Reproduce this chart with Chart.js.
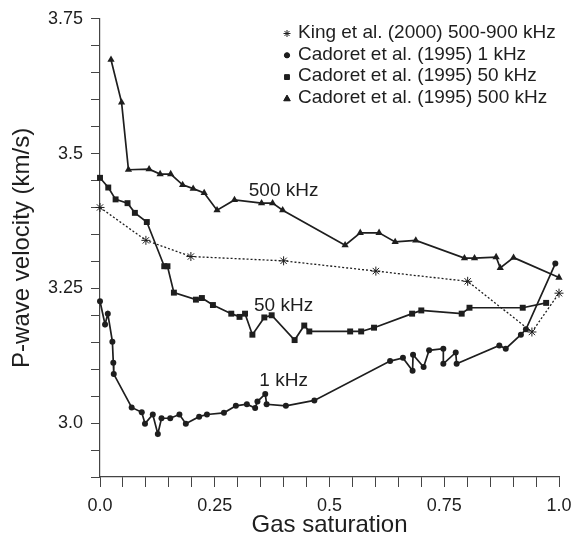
<!DOCTYPE html>
<html><head><meta charset="utf-8">
<script src="https://cdn.jsdelivr.net/npm/chart.js@4/dist/chart.umd.min.js"></script>
<style>html,body{margin:0;padding:0;background:#fff}#wrap{width:584px;height:545px}</style>
</head><body><div id="wrap"><canvas id="c" width="584" height="545"></canvas></div>
<script>
const seriesNames = ['King et al. (2000) 500-900 kHz','Cadoret et al. (1995) 1 kHz','Cadoret et al. (1995) 50 kHz','Cadoret et al. (1995) 500 kHz'];
const satKing = [0, 0.10, 0.198, 0.40, 0.601, 0.801, 0.941, 1.0];
const velKing = [3.400, 3.339, 3.309, 3.301, 3.282, 3.263, 3.169, 3.241];
const sat1k = [0, 0.011, 0.017, 0.027, 0.029, 0.030, 0.069, 0.091, 0.098, 0.115, 0.126, 0.134, 0.153, 0.173, 0.187, 0.216, 0.233, 0.270, 0.296, 0.320, 0.338, 0.343, 0.360, 0.363, 0.405, 0.467, 0.632, 0.660, 0.681, 0.682, 0.705, 0.717, 0.748, 0.748, 0.775, 0.777, 0.870, 0.884, 0.917, 0.928, 0.992];
const vel1k = [3.226, 3.183, 3.203, 3.151, 3.112, 3.091, 3.029, 3.020, 2.999, 3.016, 2.980, 3.009, 3.009, 3.016, 2.999, 3.012, 3.016, 3.019, 3.032, 3.035, 3.028, 3.040, 3.054, 3.035, 3.032, 3.042, 3.115, 3.121, 3.097, 3.127, 3.104, 3.135, 3.138, 3.110, 3.131, 3.110, 3.144, 3.138, 3.164, 3.174, 3.296];
const sat50k = [0, 0.018, 0.034, 0.060, 0.076, 0.102, 0.140, 0.147, 0.161, 0.209, 0.222, 0.246, 0.286, 0.304, 0.316, 0.332, 0.358, 0.374, 0.424, 0.445, 0.456, 0.545, 0.569, 0.597, 0.680, 0.700, 0.788, 0.805, 0.921, 0.972];
const vel50k = [3.455, 3.437, 3.415, 3.408, 3.390, 3.373, 3.291, 3.291, 3.242, 3.229, 3.232, 3.219, 3.203, 3.197, 3.203, 3.164, 3.196, 3.200, 3.154, 3.181, 3.170, 3.170, 3.170, 3.177, 3.203, 3.209, 3.203, 3.214, 3.214, 3.223];
const sat500k = [0.024, 0.047, 0.062, 0.107, 0.131, 0.154, 0.180, 0.203, 0.227, 0.255, 0.293, 0.352, 0.376, 0.398, 0.534, 0.567, 0.608, 0.643, 0.688, 0.794, 0.816, 0.863, 0.872, 0.901, 1.0];
const vel500k = [3.674, 3.595, 3.470, 3.471, 3.462, 3.462, 3.442, 3.435, 3.427, 3.395, 3.414, 3.408, 3.408, 3.395, 3.330, 3.353, 3.353, 3.336, 3.339, 3.306, 3.306, 3.308, 3.288, 3.307, 3.270];
const curveLabels = ['500 kHz', '50 kHz', '1 kHz'];
const curveLabelSat = [0.40, 0.40, 0.40];
const curveLabelVel = [3.431, 3.218, 3.078];

const INK = '#1e1e1e';
const FONT = '"Liberation Sans", Arial, Helvetica, sans-serif';
const pts = (xs, ys) => xs.map((x, i) => ({x: x, y: ys[i]}));

const curveLabelPlugin = {
  id: 'curveLabels',
  afterDatasetsDraw(chart) {
    const {ctx, scales: {x, y}} = chart;
    ctx.save();
    ctx.fillStyle = INK;
    ctx.font = '19px ' + FONT;
    ctx.textAlign = 'center';
    ctx.textBaseline = 'middle';
    curveLabels.forEach((t, i) => ctx.fillText(t, x.getPixelForValue(curveLabelSat[i]), y.getPixelForValue(curveLabelVel[i])));
    ctx.restore();
  }
};

const legendPlugin = {
  id: 'customLegend',
  afterDraw(chart) {
    const {ctx} = chart;
    ctx.save();
    const mx = 287, tx = 298, y0 = 32.5, dy = 21.8;
    ctx.font = '19px ' + FONT;
    ctx.textBaseline = 'middle';
    ctx.textAlign = 'left';
    chart.data.datasets.forEach((ds, i) => {
      const yy = y0 + i * dy;
      ctx.fillStyle = INK; ctx.strokeStyle = INK; ctx.lineWidth = 1;
      const style = ds.pointStyle;
      const r = style === 'star' ? 3.5 : style === 'circle' ? 2.6 : style === 'rect' ? 3.4 : 3.8;
      Chart.helpers.drawPoint(ctx, {pointStyle: style, radius: r, borderWidth: 1}, mx, yy + 1);
      if (style !== 'star') { ctx.fill(); }
      ctx.fillStyle = INK;
      ctx.fillText(ds.label, tx, yy);
    });
    ctx.restore();
  }
};

function yLabel(v) {
  if (v < 2.99) return '';
  if (Math.abs(v * 4 - Math.round(v * 4)) > 1e-6) return '';
  return Number.isInteger(Math.round(v * 100) / 100) ? v.toFixed(1) : String(Math.round(v * 100) / 100);
}
function xLabel(v) {
  if (Math.abs(v * 4 - Math.round(v * 4)) > 1e-6) return '';
  const r = Math.round(v * 100) / 100;
  return Number.isInteger(r) ? r.toFixed(1) : String(r);
}

const lineDs = (label, xs, ys, style, radius, dash) => ({
  label: label,
  data: pts(xs, ys),
  showLine: true,
  borderColor: INK,
  backgroundColor: INK,
  borderWidth: dash ? 1.3 : 1.7,
  borderDash: dash || [],
  pointStyle: style,
  pointRadius: radius,
  pointBorderWidth: style === 'star' ? 1 : 0,
  pointBorderColor: INK,
  pointBackgroundColor: INK,
  tension: 0,
  clip: false
});

new Chart(document.getElementById('c'), {
  type: 'scatter',
  data: {
    datasets: [
      lineDs(seriesNames[0], satKing, velKing, 'star', 4.5, [2, 2]),
      lineDs(seriesNames[1], sat1k, vel1k, 'circle', 3),
      lineDs(seriesNames[2], sat50k, vel50k, 'rect', 4.2),
      lineDs(seriesNames[3], sat500k, vel500k, 'triangle', 4.2)
    ]
  },
  options: {
    responsive: false,
    animation: false,
    layout: {padding: {top: 18, right: 25, bottom: 0, left: 0}},
    plugins: {legend: {display: false}, tooltip: {enabled: false}},
    scales: {
      x: {
        type: 'linear', min: 0, max: 1,
        afterFit(s) { s.height = 68; },
        grid: {drawOnChartArea: false, drawTicks: true, tickLength: 10, color: '#444', tickWidth: 1},
        border: {display: true, color: '#444', width: 1.2},
        ticks: {stepSize: 0.05, autoSkip: false, maxRotation: 0, padding: 8, color: INK, font: {size: 18, family: FONT}, callback: xLabel},
        title: {display: true, text: 'Gas saturation', color: INK, font: {size: 24, family: FONT}, padding: {top: 0, bottom: 5}}
      },
      y: {
        type: 'linear', min: 2.9, max: 3.75,
        afterFit(s) { s.width = 100; },
        grid: {drawOnChartArea: false, drawTicks: true, tickLength: 9, color: '#444', tickWidth: 1},
        border: {display: true, color: '#444', width: 1.2},
        ticks: {stepSize: 0.05, autoSkip: false, padding: 8, color: INK, font: {size: 18, family: FONT}, callback: yLabel},
        title: {display: true, text: 'P-wave velocity (km/s)', color: INK, font: {size: 24, family: FONT}, padding: {top: 8, bottom: 0}}
      }
    }
  },
  plugins: [curveLabelPlugin, legendPlugin]
});
</script>
</body></html>
